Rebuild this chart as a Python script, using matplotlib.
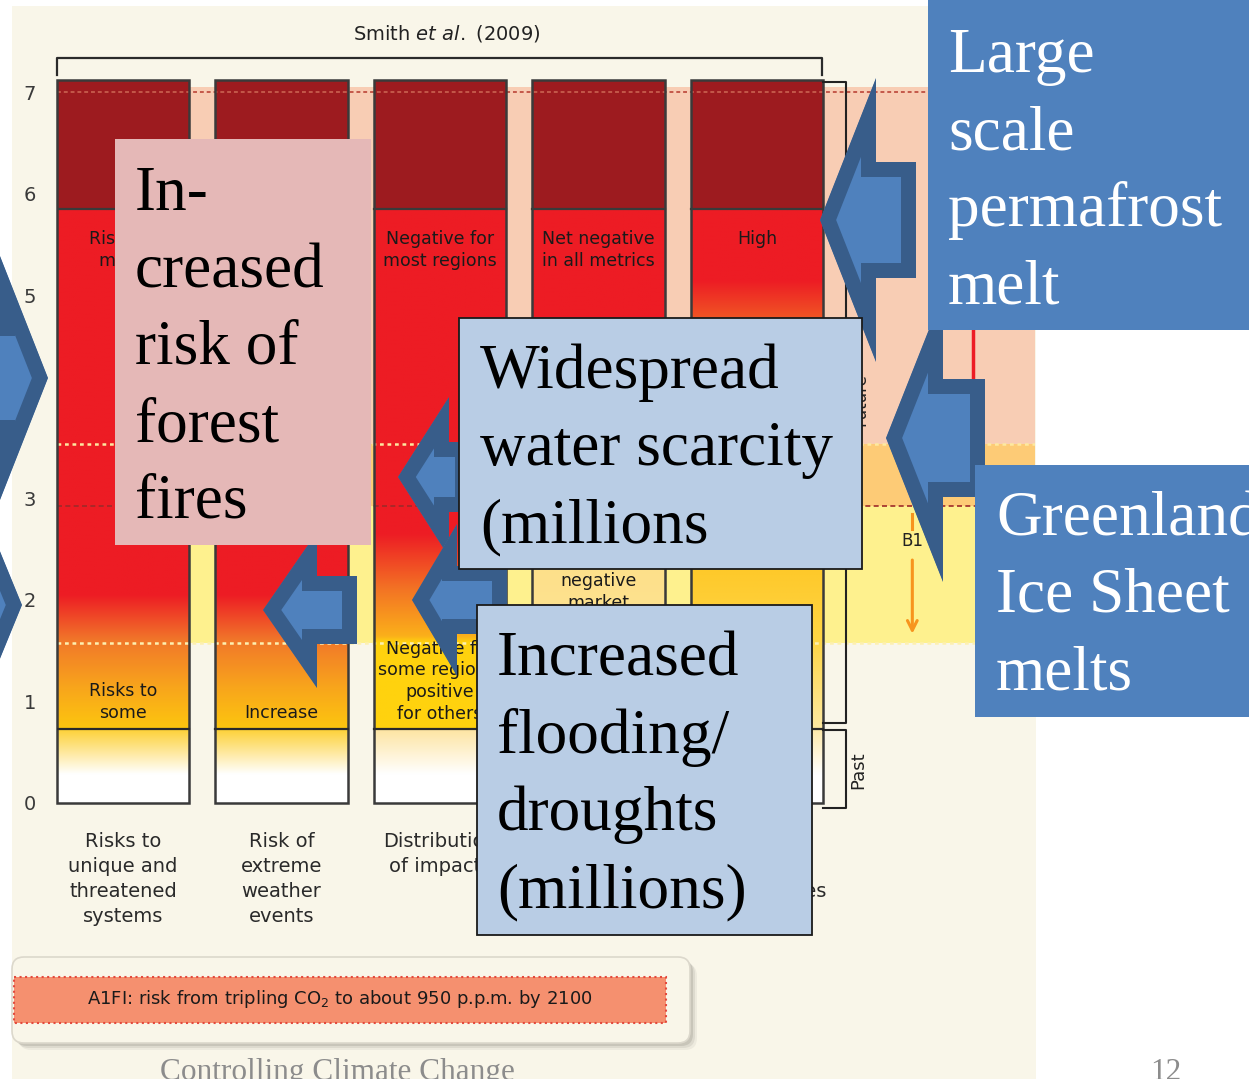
import numpy as np
import matplotlib
matplotlib.use("Agg")
import matplotlib.pyplot as plt
from matplotlib import colors as mcolors
from matplotlib.patches import Rectangle, Polygon, FancyBboxPatch

# --- burning embers (Smith et al. 2009) ---
categories = ["Risks to\nunique and\nthreatened\nsystems",
              "Risk of\nextreme\nweather\nevents",
              "Distribution\nof impacts",
              "",
              "Risks of\nlarge-scale\ndiscontinuities"]
bar_top = [7.12, 7.12, 7.12, 7.12, 7.12]
dark_from = [5.85, 5.85, 5.85, 5.85, 5.85]
past_top = [0.73, 0.73, 0.73, 0.73, 0.73]

# colour stops (temperature, colour) for the future part of each ember
ember_stops = [
    [(0.73, "#fdc60f"), (1.15, "#f8a41c"), (1.6, "#f1772a"), (2.05, "#ed1c24"), (5.85, "#ed1c24")],
    [(0.73, "#fdc60f"), (1.15, "#f8a41c"), (1.6, "#f1772a"), (2.05, "#ed1c24"), (5.85, "#ed1c24")],
    [(0.73, "#ffd20e"), (1.58, "#ffd20e"), (1.64, "#fbb01a"), (2.1, "#f37424"), (2.65, "#ed1c24"), (5.85, "#ed1c24")],
    [(0.73, "#fee69a"), (2.35, "#fde08a"), (2.6, "#fcc55a"), (3.1, "#f47a2a"), (3.6, "#ed1c24"), (5.85, "#ed1c24")],
    [(0.73, "#fde9a2"), (1.6, "#fed545"), (2.3, "#fec92a"), (3.2, "#f9a51c"), (4.75, "#f05a24"), (5.15, "#ed1c24"), (5.85, "#ed1c24")],
]
past_colour = ["#fdd033", "#fdd033", "#fde4a0", "#fde8a8", "#fde8a8"]

upper_labels = ["Risks to\nmany", "", "Negative for\nmost regions",
                "Net negative\nin all metrics", "High"]
upper_label_y = [5.64, 5.64, 5.64, 5.64, 5.64]
lower_labels = ["Risks to\nsome", "Increase", "Negative for\nsome regions;\npositive\nfor others",
                "Positive or\nnegative\nmarket", ""]
lower_label_y = [1.19, 0.975, 1.61, 2.49, 0.975]

# scenario bands behind the embers
bands = [(3.54, 7.05, "#f8cdb4"), (2.92, 3.54, "#fdcb76"), (1.58, 2.92, "#fef18e")]
yticks = [0, 1, 2, 3, 4, 5, 6, 7]

W, H = 1249, 1079
fig = plt.figure(figsize=(W / 100, H / 100), dpi=100)
fig.patch.set_facecolor("white")

def px_axes(z):
    a = fig.add_axes([0, 0, 1, 1], zorder=z)
    a.set_xlim(0, W)
    a.set_ylim(H, 0)
    a.axis("off")
    a.patch.set_visible(False)
    return a

bg = px_axes(0)
bg.add_patch(Rectangle((12, 6), 1024, 1080, facecolor="#f9f6e9", edgecolor="none"))

# title bracket
bg.plot([57, 57, 822, 822], [75, 58, 58, 75], color="#2b2b2b", lw=1.6)
bg.text(447, 33, r"Smith $\it{et\ al.}$ (2009)", ha="center", va="center",
        fontsize=14, color="#222")

# scenario box at the bottom
for k, a in enumerate([0.10, 0.16, 0.25]):
    off = 7 - 2 * k
    bg.add_patch(FancyBboxPatch((12 + off, 957 + off), 678, 86,
                                boxstyle="round,pad=0,rounding_size=12",
                                facecolor="#8a877e", edgecolor="none", alpha=a))
bg.add_patch(FancyBboxPatch((12, 957), 678, 86, boxstyle="round,pad=0,rounding_size=12",
                            facecolor="#f9f6e9", edgecolor="#dcd8cc", lw=1.2))
bg.add_patch(Rectangle((14, 977), 652, 46, facecolor="#f5906f", edgecolor="#e3493d",
                       lw=1.5, ls=":"))
bg.text(340, 999, "A1FI: risk from tripling CO$_2$ to about 950 p.p.m. by 2100",
        ha="center", va="center", fontsize=13, color="#1a1a1a")

# footer
bg.text(337, 1080, "Controlling Climate Change", ha="center", va="baseline",
        fontsize=22.5, color="#8c8c8c", family="Liberation Serif")
bg.text(1166, 1080, "12", ha="center", va="baseline",
        fontsize=22.5, color="#8c8c8c", family="Liberation Serif")

# --- chart axes ---
ax = fig.add_axes([57 / W, 1 - 803 / H, (1035 - 57) / W, (803 - 80) / H], zorder=1)
ax.patch.set_visible(False)
for s in ax.spines.values():
    s.set_visible(False)

for lo, hi, c in bands:
    ax.axhspan(lo, hi, color=c, lw=0, zorder=0.5)

x = np.arange(len(categories))
w = 0.839
for i in x:
    # future part
    sv = [s[0] for s in ember_stops[i]]
    rgbs = [mcolors.to_rgb(s[1]) for s in ember_stops[i]]
    vals = np.linspace(past_top[i], dark_from[i], 400)
    img = np.stack([np.interp(vals, sv, [c[k] for c in rgbs]) for k in range(3)], axis=-1)
    ax.imshow(img[:, None, :], extent=(i - w / 2, i + w / 2, past_top[i], dark_from[i]),
              origin="lower", aspect="auto", interpolation="bilinear", zorder=2)
    # past part
    pv = np.linspace(0, past_top[i], 100)
    pc = mcolors.to_rgb(past_colour[i])
    pimg = np.stack([np.interp(pv, [0, 0.28, past_top[i]], [1, 1, pc[k]]) for k in range(3)], axis=-1)
    ax.imshow(pimg[:, None, :], extent=(i - w / 2, i + w / 2, 0, past_top[i]),
              origin="lower", aspect="auto", interpolation="bilinear", zorder=2)

ax.bar(x, np.subtract(bar_top, dark_from), bottom=dark_from, width=w,
       color="#9d1b1f", lw=0, zorder=2)
ax.bar(x, bar_top, width=w, fill=False, edgecolor="#3a3a3a", lw=1.8, zorder=4, clip_on=False)
for i in x:
    ax.plot([i - w / 2, i + w / 2], [dark_from[i]] * 2, color="#3a3a3a", lw=1.6, zorder=4)
    ax.plot([i - w / 2, i + w / 2], [past_top[i]] * 2, color="#2a2a2a", lw=1.6, zorder=4)

# threshold lines
ax.axhline(7.0, color="#c4584a", lw=1.4, ls=(0, (2, 1.5)), zorder=3)
ax.axhline(3.54, color="#fde9a0", lw=1.8, ls=(0, (1.5, 1.5)), zorder=3)
ax.axhline(2.92, color="#9e2a2a", lw=1.2, ls=(0, (3, 2)), zorder=3)
ax.axhline(1.58, color="#fdf0b0", lw=1.8, ls=(0, (1.5, 1.5)), zorder=3)

# in-ember text
for i in x:
    ax.text(i, upper_label_y[i], upper_labels[i], ha="center", va="top", fontsize=12.5,
            linespacing=1.27, color="#1a1a1a", zorder=5)
    ax.text(i, lower_label_y[i], lower_labels[i], ha="center", va="top", fontsize=12.5,
            linespacing=1.27, color="#1a1a1a", zorder=5)
    ax.text(i, -0.29, categories[i], ha="center", va="top", fontsize=14,
            linespacing=1.38, color="#2a2a2a")

# A1FI and B1 ranges on the right
ax.plot([5.363, 5.363], [3.54, 7.0], color="#ed1c24", lw=2.5, zorder=3)
ax.plot([4.98, 4.98], [2.85, 2.7], color="#f7941d", lw=2.2, zorder=3)
ax.annotate("", xy=(4.98, 1.64), xytext=(4.98, 2.42),
            arrowprops=dict(arrowstyle="->,head_length=0.7,head_width=0.35",
                            color="#f7941d", lw=2.2), zorder=3)
ax.text(4.98, 2.58, "B1", ha="center", va="center", fontsize=12, color="#222", zorder=3)

ax.set_xlim(-0.4164, 5.754)
ax.set_ylim(0, 7.12)
ax.set_xticks([])
ax.set_yticks(yticks)
ax.set_yticklabels([str(t) for t in yticks], fontsize=14, color="#3a3a3a")
ax.tick_params(axis="y", length=0, pad=15)

# --- callouts ---
ov = px_axes(2)

# future / past brackets sit underneath the callouts
ov.plot([823, 846, 846, 823], [82, 82, 723, 723], color="#222", lw=1.5, zorder=0.5)
ov.plot([823, 846, 846, 823], [730, 730, 808, 808], color="#222", lw=1.5, zorder=0.5)
ov.text(860, 400, "Future", rotation=90, ha="center", va="center", fontsize=12,
        color="#222", zorder=0.5)
ov.text(858, 770, "Past", rotation=90, ha="center", va="center", fontsize=13,
        color="#222", zorder=0.5)

def block_arrow(tip, back, head, shaft, end):
    tx, ty = tip
    pts = [(tx, ty), (back, ty - head), (back, ty - shaft), (end, ty - shaft),
           (end, ty + shaft), (back, ty + shaft), (back, ty + head)]
    p = Polygon(pts, closed=True, facecolor="#4f81bd", edgecolor="#385d8a",
                lw=30 * 72 / 100, joinstyle="miter", zorder=1)
    ov.add_patch(p)
    p.set_clip_path(Polygon(pts, closed=True, transform=ov.transData))

block_arrow((263, 610), 317, 78, 34, 357)
block_arrow((398, 477), 449, 80, 35, 470)
block_arrow((412, 600), 457, 76, 34, 507)
block_arrow((48, 378), 0, 122, 57, -80)
block_arrow((22, 605), -28, 122, 57, -110)
block_arrow((820, 220), 876, 142, 58, 916)
block_arrow((886, 438), 943, 144, 59, 985)

def callout(x0, y0, x1, y1, fc, ec, lines, tx, ty, color):
    ov.add_patch(Rectangle((x0, y0), x1 - x0, y1 - y0, facecolor=fc,
                           edgecolor=ec, lw=1.3 if ec != "none" else 0, zorder=1))
    for k, s in enumerate(lines):
        ov.text(tx, ty + 77 * k, s, ha="left", va="baseline", fontsize=45.5,
                family="Liberation Serif", color=color, zorder=3)

callout(115, 139, 371, 545, "#e5b8b7", "none",
        ["In-", "creased", "risk of", "forest", "fires"], 135, 210, "black")
callout(459, 318, 862, 569, "#b9cde5", "#1a1a1a",
        ["Widespread", "water scarcity", "(millions"], 480, 388, "black")
callout(477, 605, 812, 935, "#b9cde5", "#1a1a1a",
        ["Increased", "flooding/", "droughts", "(millions)"], 497, 676, "black")
callout(928, -5, 1260, 330, "#4f81bd", "none",
        ["Large", "scale", "permafrost", "melt"], 948, 72, "white")
callout(975, 465, 1260, 717, "#4f81bd", "none",
        ["Greenland", "Ice Sheet", "melts"], 996, 535, "white")

fig.savefig("out.png", dpi=100)
